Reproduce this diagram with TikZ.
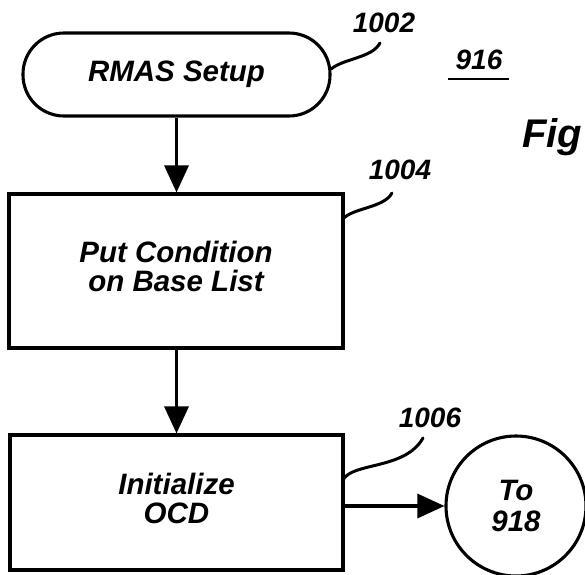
\documentclass[tikz,border=0pt]{standalone}
\usepackage{fontspec}
\setmainfont{Liberation Sans}
\usetikzlibrary{arrows.meta}
\begin{document}
\begin{tikzpicture}[x=1pt,y=-1pt,
  txt/.style={font=\fontsize{29.5}{31}\selectfont\bfseries\itshape, align=center},
  lbl/.style={font=\fontsize{28}{28}\selectfont\bfseries\itshape, inner sep=0pt},
  boxst/.style={draw, line width=3.1pt, txt},
  arr/.style={line width=3.1pt, -{Triangle[length=27pt,width=24pt]}},
  lead/.style={line width=3pt, line cap=round}]
\useasboundingbox (0,0) rectangle (585,574);
\node[boxst, rounded corners=41pt, minimum width=307pt, minimum height=83pt, inner sep=0pt] (term) at (176.5,74.5) {RMAS Setup};
\node[boxst, minimum width=334pt, minimum height=154pt, inner sep=0pt] (b1) at (176,271) {\raisebox{11pt}{\begin{tabular}{@{}c@{}}Put Condition\\[-2pt]on Base List\end{tabular}}};
\node[boxst, minimum width=333pt, minimum height=135pt, inner sep=0pt] (b2) at (176.5,502.5) {\raisebox{5pt}{\begin{tabular}{@{}c@{}}Initialize\\[-2pt]OCD\end{tabular}}};
\node[boxst, circle, minimum size=140pt, inner sep=0pt] (c) at (516,506) {To\\918};
\node[lbl] (l1002) at (384,23) {1002};
\node[lbl] (l1004) at (400,170) {1004};
\node[lbl] (l1006) at (430,418) {1006};
\node[lbl] (l916) at (479,60) {916};
\node[font=\fontsize{40}{40}\selectfont\bfseries\itshape, anchor=base west, inner sep=0pt] (fig) at (522,147) {Fig};
\coordinate (u1) at (448,79);
\coordinate (u2) at (509,79);
\draw[line width=2.4pt] (u1) -- (u2);
\draw[arr] (term.south) -- (term.south |- b1.north);
\draw[arr] (b1.south -| term.south) -- (term.south |- b2.north);
\draw[arr] (b2.east |- c.west) -- (c.west);
\coordinate (e1) at (331,69);
\coordinate (e2) at (343,219);
\coordinate (e3) at (343,480);
\coordinate (s1) at (380,43);
\coordinate (s2) at (392,193);
\coordinate (s3) at (423,438);
\draw[lead] (s1) .. controls (372,58) and (345,58) .. (e1);
\draw[lead] (s2) .. controls (384,208) and (352,208) .. (e2);
\draw[lead] (s3) .. controls (405,470) and (352,462) .. (e3);
\end{tikzpicture}
\end{document}
